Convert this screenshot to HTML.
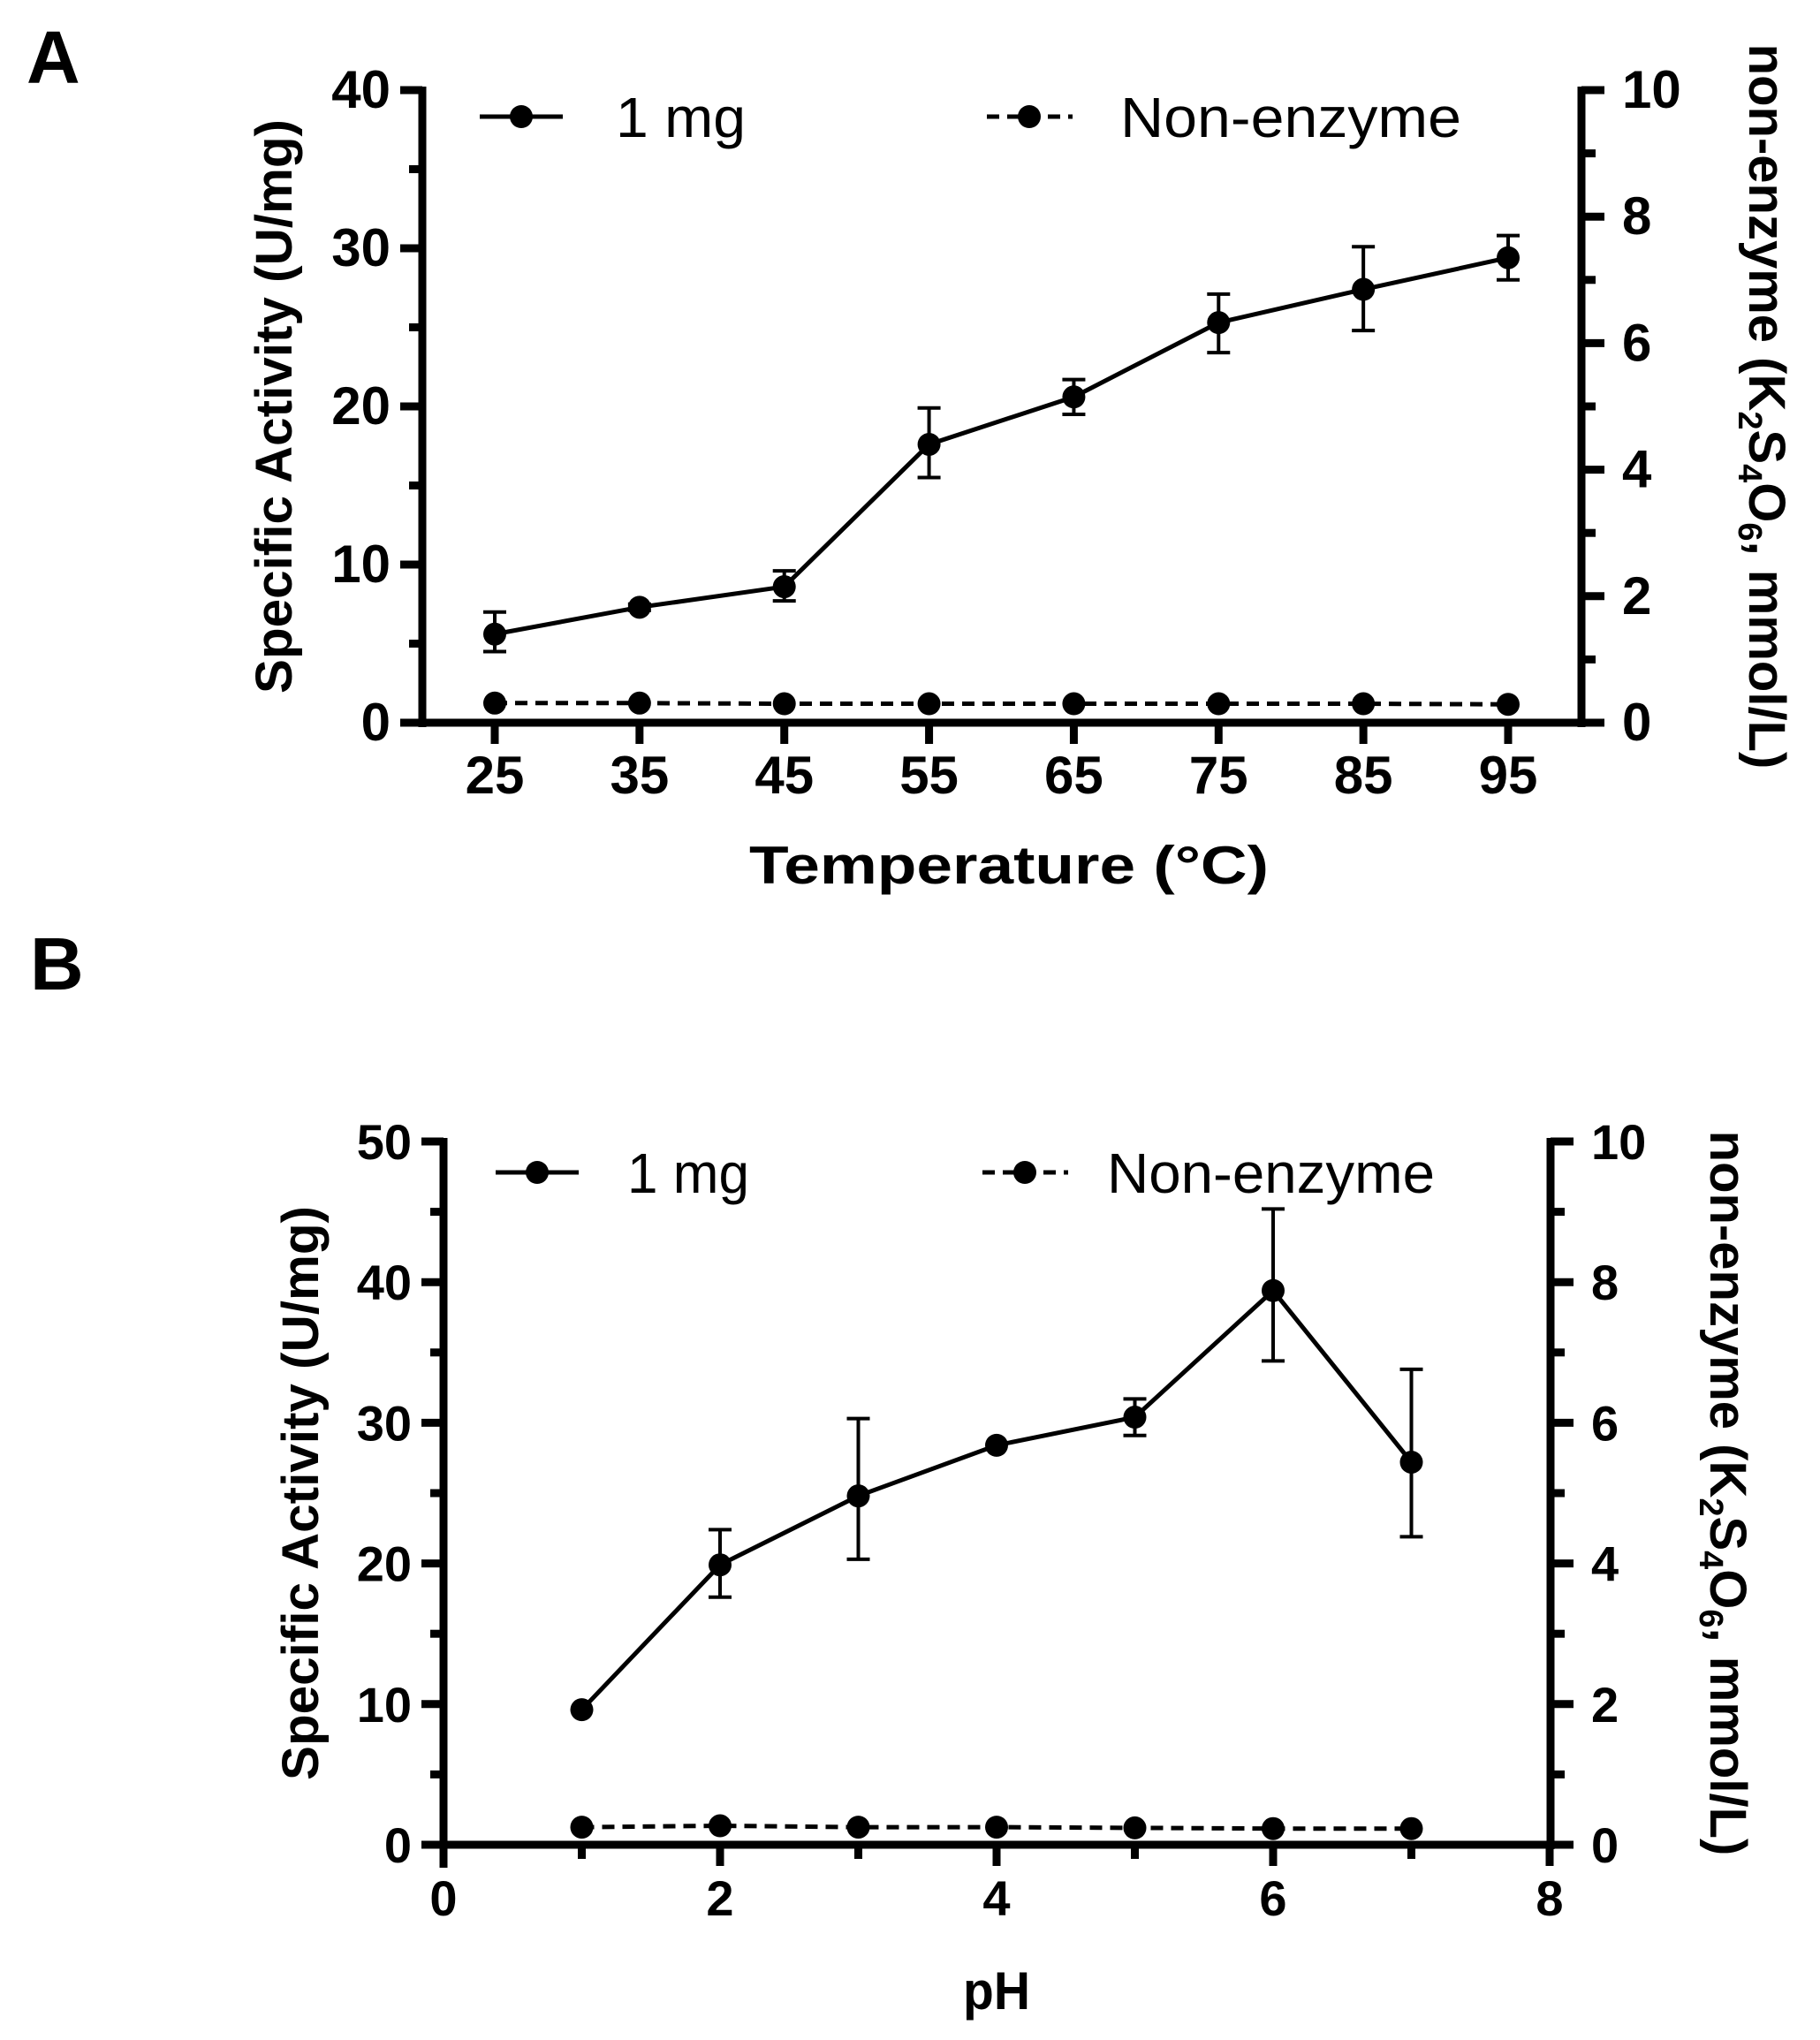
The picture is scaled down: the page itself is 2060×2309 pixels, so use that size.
<!DOCTYPE html>
<html><head><meta charset="utf-8"><style>
html,body{margin:0;padding:0;background:#fff;}
svg{display:block;}
text{font-family:"Liberation Sans",Arial,sans-serif;fill:#000;}
</style></head>
<body>
<svg id="fig" width="2060" height="2309" viewBox="0 0 2060 2309" xmlns="http://www.w3.org/2000/svg">
<rect width="2060" height="2309" fill="#fff"/>
<text x="30" y="94" font-size="84" font-weight="bold">A</text>
<text x="34" y="1120" font-size="84" font-weight="bold">B</text>
<g id="pa"></g>
<g id="pb"></g>
</svg>
<script>
// Panel A data
const tempCategories=[25,35,45,55,65,75,85,95];
const tempActivity=[5.6,7.3,8.6,17.6,20.6,25.3,27.4,29.4];
const tempErrLow=[4.5,7.1,7.7,15.5,19.5,23.4,24.8,28.0];
const tempErrHigh=[7.0,7.5,9.6,19.9,21.7,27.1,30.1,30.8];
const tempNonEnzyme=[0.31,0.31,0.30,0.30,0.30,0.30,0.30,0.29];
const tempLeftTicks=[0,10,20,30,40];
const tempRightTicks=[0,2,4,6,8,10];
// Panel B data
const phCategories=[1,2,3,4,5,6,7];
const phActivity=[9.6,19.9,24.8,28.4,30.4,39.4,27.2];
const phErrLow=[9.6,17.6,20.3,28.4,29.1,34.4,21.9];
const phErrHigh=[9.6,22.4,30.3,28.4,31.7,45.2,33.8];
const phNonEnzyme=[0.25,0.27,0.25,0.25,0.24,0.23,0.23];
const phXTicks=[0,2,4,6,8];
const phLeftTicks=[0,10,20,30,40,50];
const phRightTicks=[0,2,4,6,8,10];

const NS='http://www.w3.org/2000/svg';
function mk(parent,tag,attrs,txt){const e=document.createElementNS(NS,tag);for(const k in attrs)e.setAttribute(k,attrs[k]);if(txt!==undefined)e.textContent=txt;parent.appendChild(e);return e;}

function drawPanel(g,o){
  const X=v=>o.x0+(v-o.xv0)*(o.x1-o.x0)/(o.xv1-o.xv0);
  const Y=v=>o.yb+(v)*(o.yt-o.yb)/o.lmax;
  const YR=v=>o.yb+(v)*(o.yt-o.yb)/o.rmax;
  const la=mk(g,'line',{x1:o.ax,y1:o.yt-4,x2:o.ax,y2:o.yb+(o.xAtZeroTick?26:5),stroke:'#000','stroke-width':9});
  
  const ra=mk(g,'line',{x1:o.rx,y1:o.yt-4,x2:o.rx,y2:o.yb+5,stroke:'#000','stroke-width':9});
  
  const xa=mk(g,'line',{x1:o.ax-25,y1:o.yb,x2:o.rx+4,y2:o.yb,stroke:'#000','stroke-width':9});
  
  const lstep=o.lticks[1]-o.lticks[0];
  for(let v=0;v<=o.lmax+0.001;v+=lstep/2){
    const major=Math.abs(v/lstep-Math.round(v/lstep))<0.01;
    const t=mk(g,'line',{x1:o.ax-(major?25:15),y1:Y(v),x2:o.ax,y2:Y(v),stroke:'#000','stroke-width':9});
    
  }
  o.lticks.forEach(v=>{const t=mk(g,'text',{x:o.ax-36,y:Y(v)+20,'font-size':o.tfs,'font-weight':'bold','text-anchor':'end'},v);
    });
  for(let v=0;v<=o.rmax+0.001;v+=1){
    const major=v%2===0;
    const t=mk(g,'line',{x1:o.rx,y1:YR(v),x2:o.rx+(major?26:16),y2:YR(v),stroke:'#000','stroke-width':9});
    
  }
  o.rticks.forEach(v=>{const t=mk(g,'text',{x:o.rx+46,y:YR(v)+20,'font-size':o.tfs,'font-weight':'bold'},v);
    });
  o.xticks.forEach(v=>{const t=mk(g,'line',{x1:X(v),y1:o.yb,x2:X(v),y2:o.yb+24,stroke:'#000','stroke-width':9});
    
    const l=mk(g,'text',{x:X(v),y:o.yb+80,'font-size':o.tfs,'font-weight':'bold','text-anchor':'middle'},v);
    });
  (o.minorX||[]).forEach(v=>{const t=mk(g,'line',{x1:X(v),y1:o.yb,x2:X(v),y2:o.yb+16,stroke:'#000','stroke-width':9});
    });
  const dpts=o.cats.map((c,i)=>X(c)+','+YR(o.non[i])).join(' ');
  const dl=mk(g,'polyline',{points:dpts,fill:'none',stroke:'#000','stroke-width':5,'stroke-dasharray':'14 9'});
  
  o.cats.forEach((c,i)=>{const p=mk(g,'circle',{cx:X(c),cy:YR(o.non[i]),r:13});
    });
  const pts=o.cats.map((c,i)=>X(c)+','+Y(o.act[i])).join(' ');
  const sl=mk(g,'polyline',{points:pts,fill:'none',stroke:'#000','stroke-width':5});
  
  o.cats.forEach((c,i)=>{
    if(o.hi[i]-o.lo[i]>0.3){
      const e=mk(g,'path',{d:`M${X(c)},${Y(o.lo[i])}V${Y(o.hi[i])}M${X(c)-13},${Y(o.lo[i])}h26M${X(c)-13},${Y(o.hi[i])}h26`,stroke:'#000','stroke-width':4,fill:'none'});
      
    }
    const p=mk(g,'circle',{cx:X(c),cy:Y(o.act[i]),r:13});
    
  });
  const L=o.leg;
  const l1=mk(g,'line',{x1:L.x1,y1:L.y,x2:L.x1+94,y2:L.y,stroke:'#000','stroke-width':5});
  
  const c1=mk(g,'circle',{cx:L.x1+47,cy:L.y,r:13});
  
  const t1=mk(g,'text',{x:L.t1,y:L.y+23,'font-size':L.fs,textLength:L.w1,lengthAdjust:'spacingAndGlyphs'},'1 mg');
  
  const l2=mk(g,'line',{x1:L.x2,y1:L.y,x2:L.x2+97,y2:L.y,stroke:'#000','stroke-width':5,'stroke-dasharray':'14 9'});
  
  const c2=mk(g,'circle',{cx:L.x2+48,cy:L.y,r:13});
  
  const t2=mk(g,'text',{x:L.t2,y:L.y+23,'font-size':L.fs,textLength:L.w2,lengthAdjust:'spacingAndGlyphs'},'Non-enzyme');
  
  const cy=(o.yt+o.yb)/2;
  const lt=mk(g,'text',{x:0,y:0,'font-size':58,'font-weight':'bold','text-anchor':'middle',transform:`translate(${o.ltx},${cy}) rotate(-90)`,textLength:650,lengthAdjust:'spacingAndGlyphs'},'Specific Activity (U/mg)');
  
  const rt=mk(g,'text',{x:0,y:0,'font-size':58,'font-weight':'bold','text-anchor':'middle',transform:`translate(${o.rtx},${cy}) rotate(90)`});
  
  rt.innerHTML='non-enzyme (K<tspan font-size="38" dy="12">2</tspan><tspan dy="-12">S</tspan><tspan font-size="38" dy="12">4</tspan><tspan dy="-12">O</tspan><tspan font-size="38" dy="12">6</tspan><tspan dy="-12">, mmol/L)</tspan>';
  const xt=mk(g,'text',{x:o.xtx,y:o.xty,'font-size':60,'font-weight':'bold','text-anchor':'middle',textLength:o.xtw,lengthAdjust:'spacingAndGlyphs'},o.xtitle);
  
}

drawPanel(document.getElementById('pa'),{
  x0:560,x1:1707,xv0:25,xv1:95,ax:478,rx:1790,yt:102,yb:818,lmax:40,rmax:10,tfs:60,
  lticks:tempLeftTicks,rticks:tempRightTicks,xticks:tempCategories,
  cats:tempCategories,act:tempActivity,lo:tempErrLow,hi:tempErrHigh,non:tempNonEnzyme,
  leg:{x1:543,y:132,t1:697,w1:147,x2:1117,t2:1268,w2:386,fs:64},
  ltx:330,rtx:1980,xtx:1142,xty:1000,xtitle:'Temperature (\u00B0C)',xtw:588
});
drawPanel(document.getElementById('pb'),{
  x0:502,x1:1754,xv0:0,xv1:8,ax:502,rx:1755,yt:1292,yb:2088,lmax:50,rmax:10,xAtZeroTick:true,tfs:56,
  lticks:phLeftTicks,rticks:phRightTicks,xticks:phXTicks,minorX:[1,3,5,7],
  cats:phCategories,act:phActivity,lo:phErrLow,hi:phErrHigh,non:phNonEnzyme,
  leg:{x1:561,y:1327,t1:710,w1:138,x2:1112,t2:1253,w2:371,fs:64},
  ltx:360,rtx:1936,xtx:1128,xty:2274,xtitle:'pH',xtw:76
});
</script>
</body></html>
